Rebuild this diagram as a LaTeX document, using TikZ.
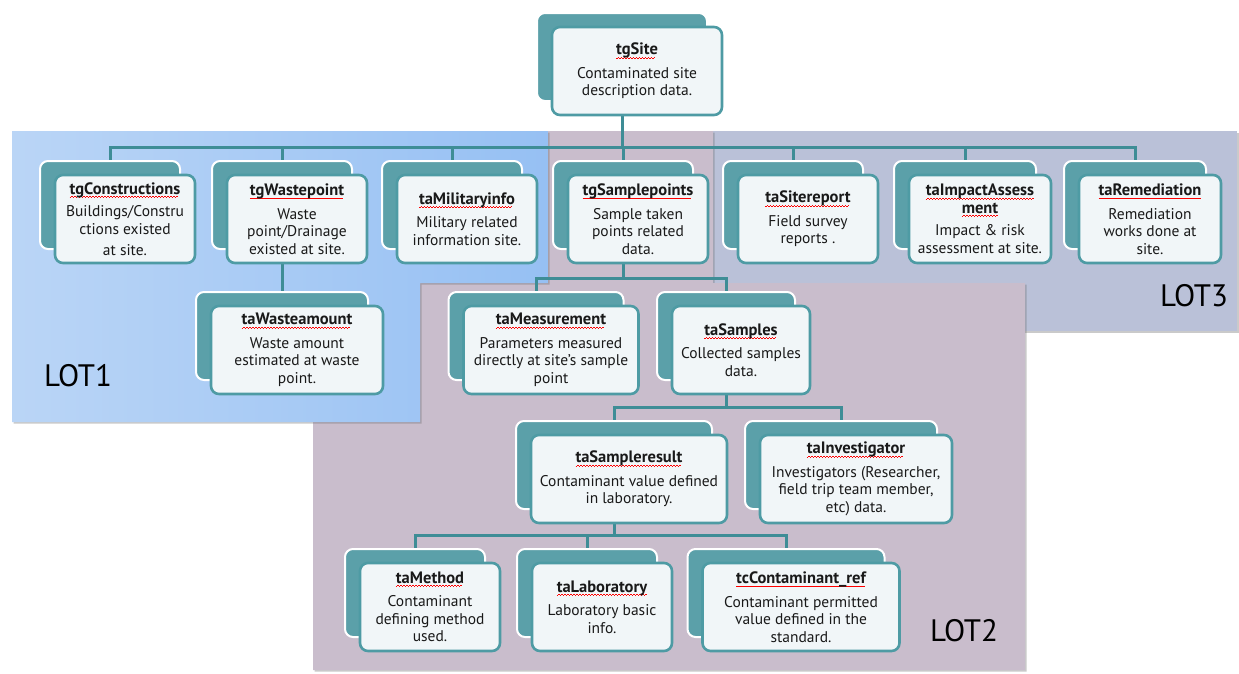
\documentclass[tikz,border=0pt]{standalone}
\usepackage{fontspec}
\setmainfont{PT Sans}
\usetikzlibrary{shadows}
\definecolor{cardteal}{HTML}{5BA0A9}
\definecolor{cardedge}{HTML}{4E9BA4}
\definecolor{cardfill}{HTML}{F1F6F8}
\definecolor{linkteal}{HTML}{3E8D96}
\definecolor{lotblue}{HTML}{96C0F3}
\definecolor{lotbluelt}{HTML}{BAD5F6}
\definecolor{lotmauve}{HTML}{C9BDCC}
\definecolor{lotslate}{HTML}{BAC1D8}
\definecolor{inkc}{HTML}{383838}
\pgfdeclarelayer{lot}
\pgfdeclarelayer{wires}
\pgfsetlayers{lot,wires,main}
% bold title with a red squiggle under it
\newcommand{\ttl}[1]{\setbox0\hbox{\fontsize{16.5}{17.5}\selectfont\bfseries\color{black!90}#1}\rlap{\color{red}\leaders\hbox to 3pt{\rule[-3.4pt]{1.5pt}{.7pt}\rule[-2.7pt]{1.5pt}{.7pt}}\hskip\wd0}\box0}
\tikzset{back/.style={rectangle,rounded corners=8pt,fill=cardteal,draw=white,line width=2pt,minimum height=88pt,inner sep=0pt},
  front/.style={rectangle,rounded corners=8pt,fill=cardfill,draw=cardedge,line width=2.6pt,minimum height=88pt,align=center,text=inkc,inner sep=1pt,font=\fontsize{15.5}{17.5}\selectfont},
  branch/.style={draw=linkteal,line width=3pt,to path={(\tikztostart.south) |- ([yshift=13pt]\tikztotarget.north) -- (\tikztotarget.north)}},
  lotname/.style={font=\fontsize{31}{31}\selectfont,text=black,inner sep=0pt},
  lotshadow/.style={drop shadow={shadow xshift=1.5pt,shadow yshift=-1.5pt,opacity=.35,fill=black!60}}}

\begin{document}
\begin{tikzpicture}[x=1pt,y=-1pt]
\useasboundingbox (0,0) rectangle (1239,673);

% the three lots
\begin{pgfonlayer}{lot}
\path[fill=lotslate,lotshadow] (713,131) rectangle (1237,331);
\path[fill=lotmauve,lotshadow] (548,131) -- (713,131) -- (713,283) -- (1025,283) -- (1025,670) -- (313,670) -- (313,283) -- (548,283) -- cycle;
\path[left color=lotbluelt,right color=lotblue,lotshadow] (12,131) -- (548,131) -- (548,283) -- (420,283) -- (420,422) -- (12,422) -- cycle;
\end{pgfonlayer}

\foreach \n/\x/\y/\w/\t in {
  site/622/57/170/{\ttl{tgSite}\\[6pt]Contaminated site\\description data.},
  constr/110/205/140/{\ttl{tgConstructions}\\[5pt]Buildings/Constru\\ctions existed\\[4pt]at site.},
  waste/282/205/140/{\ttl{tgWastepoint}\\[6pt]Waste\\point/Drainage\\existed at site.},
  military/452/205/140/{\ttl{taMilitaryinfo}\\[6pt]Military related\\information site.},
  samplepts/623/205/140/{\ttl{tgSamplepoints}\\[6pt]Sample taken\\points related\\data.},
  sitereport/793/205/140/{\ttl{taSitereport}\\[6pt]Field survey\\reports .},
  impact/965/205/142/{\ttl{taImpactAssess}\\\ttl{ment}\\[5pt]Impact \& risk\\assessment at site.},
  remed/1135/205/142/{\ttl{taRemediation}\\[6pt]Remediation\\works done at\\site.},
  wasteamt/282/336/172/{\ttl{taWasteamount}\\[6pt]Waste amount\\estimated at waste\\point.},
  measure/536/336/175/{\ttl{taMeasurement}\\[6pt]Parameters measured\\directly at site's sample\\point},
  samples/726/336/138/{\ttl{taSamples}\\[6pt]Collected samples\\data.},
  result/614/465/196/{\ttl{taSampleresult}\\[6pt]Contaminant value defined\\in laboratory.},
  investig/841/465/192/{\ttl{taInvestigator}\\[6pt]Investigators (Researcher,\\field trip team member,\\etc) data.},
  method/415/593/140/{\ttl{taMethod}\\[6pt]Contaminant\\defining method\\used.},
  lab/587/593/140/{\ttl{taLaboratory}\\[6pt]Laboratory basic\\info.},
  contref/786/593/197/{\ttl{tcContaminant\_ref}\\[6pt]Contaminant permitted\\value defined in the\\standard.}}
{
  \node[back,minimum width=\w pt] (\n) at (\x,\y) {};
  \node[front,minimum width=\w pt] (\n-c) at ([shift={(15,14)}]\n) {\t};
}

\begin{pgfonlayer}{wires}
\path
  (site) edge[branch] (constr)
  (site) edge[branch] (waste)
  (site) edge[branch] (military)
  (site) edge[branch] (samplepts)
  (site) edge[branch] (sitereport)
  (site) edge[branch] (impact)
  (site) edge[branch] (remed)
  (waste) edge[branch] (wasteamt)
  (samplepts) edge[branch] (measure)
  (samplepts) edge[branch] (samples)
  (samples) edge[branch] (result)
  (samples) edge[branch] (investig)
  (result) edge[branch] (method)
  (result) edge[branch] (lab)
  (result) edge[branch] (contref)
  ;
\end{pgfonlayer}

\node[lotname] (lot1) at (78,376) {LOT1};
\node[lotname] (lot2) at (964,631) {LOT2};
\node[lotname] (lot3) at (1194,296) {LOT3};
\end{tikzpicture}
\end{document}
